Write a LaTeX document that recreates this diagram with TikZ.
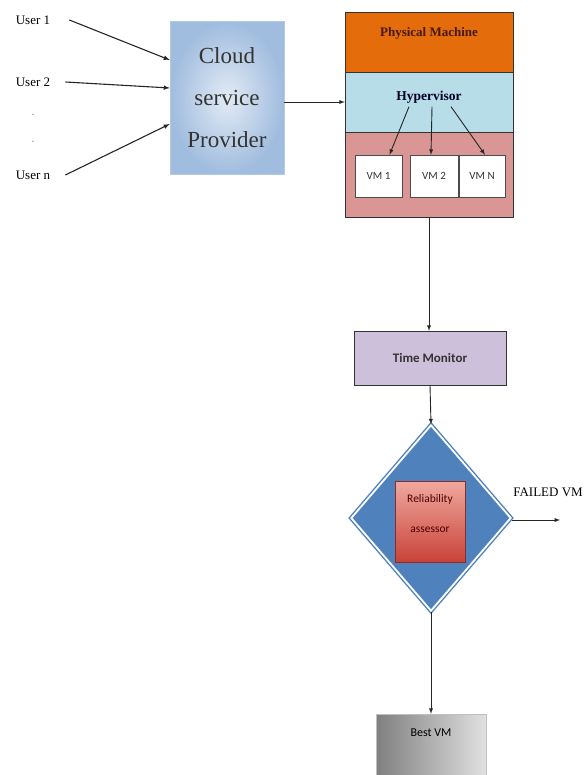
\documentclass[tikz,border=0pt]{standalone}
\usepackage{fontspec}
\setmainfont{Liberation Serif}
\newfontfamily\calibrifont{Carlito}
\usepackage{tikz}
\usetikzlibrary{shapes}
\usetikzlibrary{arrows}
\definecolor{pmorange}{RGB}{228,108,10}
\definecolor{pmtext}{RGB}{70,25,10}
\definecolor{hypblue}{RGB}{183,221,232}
\definecolor{vmpink}{RGB}{217,150,148}
\definecolor{tmlav}{RGB}{204,192,218}
\definecolor{cspblue}{RGB}{160,188,222}
\definecolor{relblue}{RGB}{79,129,189}
\definecolor{asrtop}{RGB}{240,168,158}
\definecolor{asrbot}{RGB}{200,66,56}
\tikzstyle{user} = [inner sep=1pt, font=\fontsize{13}{15}\selectfont]
\tikzstyle{dotmark} = [inner sep=0pt, text=black!40, font=\fontsize{13}{15}\selectfont]
\tikzstyle{provider} = [rectangle, minimum width=114pt, minimum height=153pt, inner sep=0pt, align=center,
draw=cspblue!80, inner color=white!70!cspblue, outer color=cspblue, text=black!80,
font=\fontsize{23}{42}\selectfont]
\tikzstyle{layer} = [rectangle, minimum width=168pt, inner sep=0pt, draw=black!80]
\tikzstyle{vm} = [rectangle, minimum width=47pt, minimum height=42pt, inner sep=0pt, draw=black!70, fill=white,
text=black!80, font=\calibrifont\fontsize{11}{13}\selectfont]
\tikzstyle{monitor} = [rectangle, minimum width=152pt, minimum height=54pt, inner sep=0pt, draw=black!80, fill=tmlav,
text=black!80, font=\calibrifont\bfseries\fontsize{13}{15}\selectfont]
\tikzstyle{decision} = [diamond, minimum width=160pt, minimum height=186pt, inner sep=0pt, fill=relblue, draw=relblue,
double=white, double distance=1.8pt, line width=1.4pt]
\tikzstyle{assessor} = [rectangle, minimum width=70pt, minimum height=81pt, inner sep=0pt,
top color=asrtop, bottom color=asrbot, draw=asrbot!70!black]
\tikzstyle{best} = [rectangle, minimum width=110pt, minimum height=62pt, inner sep=0pt, left color=black!50,
right color=black!12, draw=black!25]
\tikzstyle{arrow} = [line width=0.9pt, draw=black!85, ->, >=latex]
\begin{document}
\begin{tikzpicture}[x=1pt, y=-1pt, node distance=62pt]
    \useasboundingbox (0,0) rectangle (586,775);

    % users and provider
    \node(U1)[user] at (33,20){User 1};
    \node(U2)[user, below of=U1]{User 2};
    \node(D1)[dotmark, below of=U2, yshift=29pt]{.};
    \node(D2)[dotmark, below of=U2, yshift=2pt]{.};
    \node(Un)[user, below of=U2, yshift=-31pt]{User n};
    \node(CSP)[provider] at (227,98){Cloud\\service\\Provider};
    \draw[arrow, line width=1.1pt] ([xshift=18pt]U1.east) -- ([yshift=38pt]CSP.west);
    \draw[arrow, line width=1.1pt] ([xshift=14pt]U2.east) -- ([yshift=10pt]CSP.west);
    \draw[arrow, line width=1.1pt] ([xshift=14pt]Un.east) -- ([yshift=-26pt]CSP.west);

    % physical machine stack
    \node(PM)[layer, fill=pmorange, minimum height=60pt] at (429,42){};
    \node(PMtext)[text=pmtext, font=\bfseries\fontsize{13}{15}\selectfont] at ([yshift=9pt]PM.center){Physical Machine};
    \node(HYP)[layer, fill=hypblue, minimum height=60pt, below of=PM, node distance=60pt]{};
    \node(HYPtext)[text=black!85!blue, font=\bfseries\fontsize{13.5}{15}\selectfont] at ([yshift=5pt]HYP.center){Hypervisor};
    \node(VML)[layer, fill=vmpink, minimum height=85pt] at (429,174.5){};
    \node(VM1)[vm] at (378.5,176){VM 1};
    \node(VM2)[vm, right of=VM1, node distance=55.5pt, minimum width=48pt]{VM 2};
    \node(VMN)[vm, right of=VM2, node distance=48pt, minimum width=46pt]{VM N};
    \draw[arrow] ([xshift=-20pt]HYPtext.south) -- ([xshift=11pt]VM1.north);
    \draw[arrow] ([xshift=3pt]HYPtext.south) -- ([xshift=-3pt]VM2.north);
    \draw[arrow] ([xshift=22pt]HYPtext.south) -- ([xshift=3pt]VMN.north);
    \draw[arrow] (CSP.east |- HYP.west) -- (HYP.west);

    % monitoring and assessment
    \node(TM)[monitor] at (430,358){Time Monitor};
    \draw[arrow] (VML.south) -- (VML.south |- TM.north);
    \node(REL)[decision] at (431,518){};
    \node(ASR)[assessor] at (430,522){};
    \node(ASRtext)[align=center, text=black!70!red, font=\calibrifont\fontsize{11.5}{30}\selectfont]
      at ([yshift=8pt]ASR.center){Reliability\\assessor};
    \draw[arrow] (TM.south) -- (REL.north);
    \node(FAILtxt)[user, font=\fontsize{13}{15}\selectfont] at (548,492){FAILED VM};
    \coordinate(FAILend) at (560,520);
    \draw[arrow] ([yshift=-2pt]REL.east) -- (FAILend);
    \node(BEST)[best] at (431,745){};
    \node(BESTtext)[font=\calibrifont\fontsize{12}{14}\selectfont] at ([yshift=12pt]BEST.center){Best VM};
    \draw[arrow] (REL.south) -- (BEST.north);

\end{tikzpicture}
\end{document}
